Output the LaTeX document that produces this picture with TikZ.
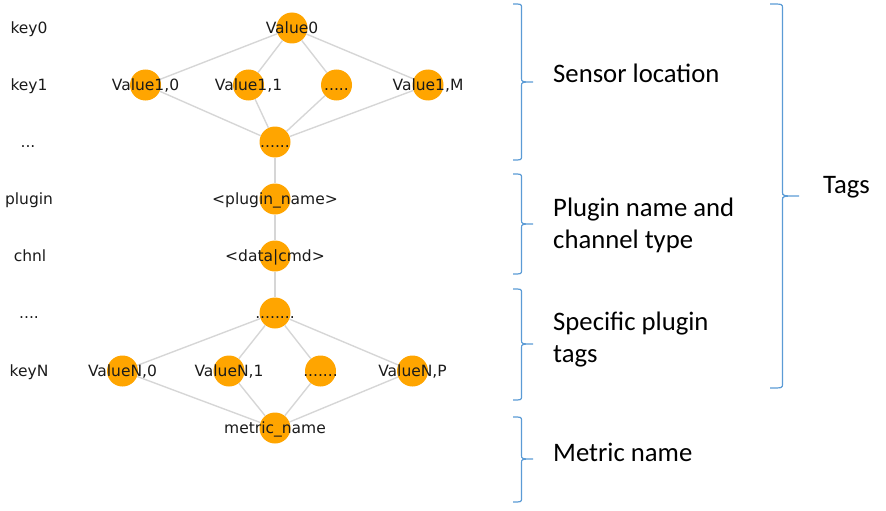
\documentclass[tikz,border=0pt]{standalone}
\usepackage{fontspec}
\setmainfont{Carlito}
\newfontfamily\dvfont{DejaVu Sans}
\definecolor{nodeorange}{HTML}{FFA500}
\definecolor{edgegray}{HTML}{D6D6D6}
\definecolor{braceblue}{HTML}{5B9BD5}
\definecolor{txt}{HTML}{1A1A1A}
\newcommand\drawbrace[6]{% xl xv xt yt ym yb
  \draw[bracestyle] (#1,#4) .. controls (#2,#4) .. (#2,#4+4) -- (#2,#5-4)
    .. controls (#2,#5) .. (#3,#5) .. controls (#2,#5) .. (#2,#5+4)
    -- (#2,#6-4) .. controls (#2,#6) .. (#1,#6);}
\begin{document}
\begin{tikzpicture}[x=1pt,y=-1pt,
  vtx/.style={circle,fill=nodeorange,draw=none,minimum size=31pt,inner sep=0pt},
  lbl/.style={font=\dvfont\fontsize{15.5}{18}\selectfont,anchor=base,inner sep=0pt,text=txt},
  edgestyle/.style={draw=edgegray,line width=1.4pt},
  bracestyle/.style={draw=braceblue,line width=1.2pt},
  side/.style={font=\fontsize{26.7}{32}\selectfont,anchor=base west,inner sep=0pt,text=black}
]
\useasboundingbox (0,0) rectangle (886,511);
% vertices
\node[vtx] (v0) at (292,28) {};
\node[vtx] (a0) at (145.5,85) {};
\node[vtx] (a1) at (248.5,85) {};
\node[vtx] (a2) at (336.5,85) {};
\node[vtx] (a3) at (428,85) {};
\node[vtx] (b) at (275,142) {};
\node[vtx] (p) at (275,199) {};
\node[vtx] (c) at (275,256) {};
\node[vtx] (d) at (275,313) {};
\node[vtx] (n0) at (122.5,371) {};
\node[vtx] (n1) at (229,371) {};
\node[vtx] (n2) at (320.5,371) {};
\node[vtx] (n3) at (412.5,371) {};
\node[vtx] (m) at (275,428) {};
% edges
\foreach \t in {a0,a1,a2,a3} {\draw[edgestyle] (v0) -- (\t); \draw[edgestyle] (\t) -- (b);}
\draw[edgestyle] (b) -- (p);
\draw[edgestyle] (p) -- (c);
\draw[edgestyle] (c) -- (d);
\foreach \t in {n0,n1,n2,n3} {\draw[edgestyle] (d) -- (\t); \draw[edgestyle] (\t) -- (m);}
% vertex labels
\node[lbl] (lv0) at (292,33.7) {Value0};
\node[lbl] (la0) at (145.5,90.7) {Value1,0};
\node[lbl] (la1) at (248.5,90.7) {Value1,1};
\node[lbl] (la2) at (336.5,90.7) {.....};
\node[lbl] (la3) at (428,90.7) {Value1,M};
\node[lbl] (lb) at (275,147.7) {......};
\node[lbl] (lp) at (275,204.7) {<plugin\_name>};
\node[lbl] (lc) at (275,261.7) {<data|cmd>};
\node[lbl] (ld) at (275,318.7) {........};
\node[lbl] (ln0) at (122.5,376.7) {ValueN,0};
\node[lbl] (ln1) at (229,376.7) {ValueN,1};
\node[lbl] (ln2) at (320.5,376.7) {.......};
\node[lbl] (ln3) at (412.5,376.7) {ValueN,P};
\node[lbl] (lm) at (275,433.7) {metric\_name};
% key labels
\node[lbl] (k0) at (29,33.7) {key0};
\node[lbl] (k1) at (29,90.7) {key1};
\node[lbl] (k2) at (28,147.7) {...};
\node[lbl] (k3) at (29,204.7) {plugin};
\node[lbl] (k4) at (30,261.7) {chnl};
\node[lbl] (k5) at (29,318.7) {....};
\node[lbl] (k6) at (29,376.7) {keyN};
% braces
\drawbrace{513}{521.5}{533}{4}{82}{160}
\drawbrace{513}{521.5}{533}{174}{224}{274}
\drawbrace{513}{521.5}{533}{289}{344}{400}
\drawbrace{513}{521.5}{533}{417}{459}{502}
\drawbrace{770}{782.5}{799}{4}{196}{388}
% side texts
\node[side] (s1) at (553,82.7) {Sensor location};
\node[side] (s2a) at (553,216) {Plugin name and};
\node[side] (s2b) at (553,248) {channel type};
\node[side] (s3a) at (553,330) {Specific plugin};
\node[side] (s3b) at (553,362) {tags};
\node[side] (s4) at (553,461) {Metric name};
\node[side] (tg) at (823,193) {Tags};
\end{tikzpicture}
\end{document}
